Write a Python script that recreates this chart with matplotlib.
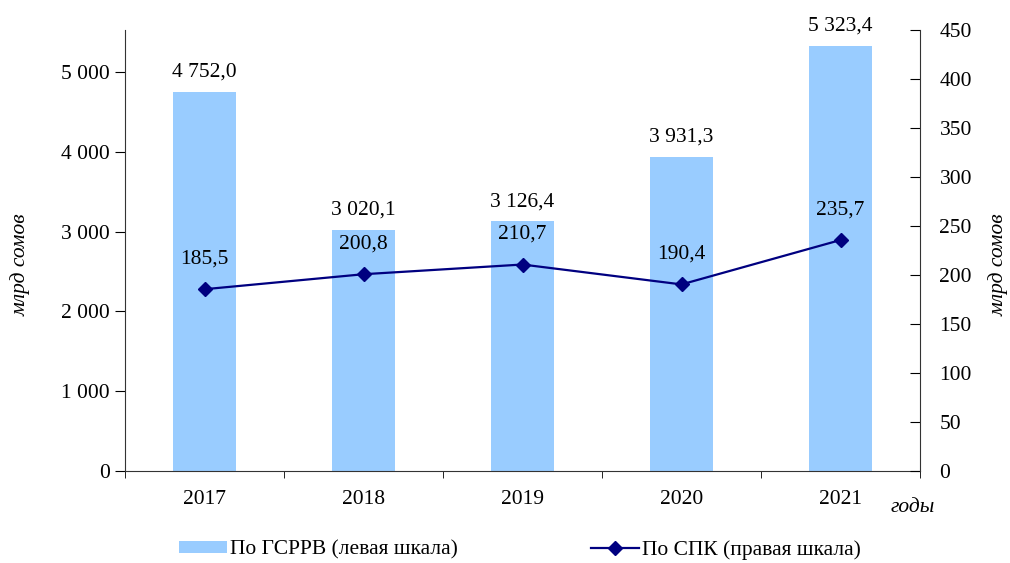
import numpy as np
import matplotlib.pyplot as plt
from matplotlib.ticker import FuncFormatter, FixedLocator

plt.rcParams['font.family'] = ['Liberation Serif', 'DejaVu Serif']

years = ['2017', '2018', '2019', '2020', '2021']
gsrrv = [4752.0, 3020.1, 3126.4, 3931.3, 5323.4]
spk = [185.5, 200.8, 210.7, 190.4, 235.7]

bar_color = '#99CCFF'
line_color = '#000080'
fs = 15.5


def ru(v, dec=0):
    s = f'{v:,.{dec}f}'
    return s.replace(',', ' ').replace('.', ',')


fig = plt.figure(figsize=(10.1, 5.63), dpi=100)
ax = fig.add_axes([0.1238, 0.1634, 0.9109 - 0.1238, 0.9467 - 0.1634])
ax2 = ax.twinx()

x = np.arange(len(years))
bars = ax.bar(x, gsrrv, width=0.4, color=bar_color, label='По ГСРРВ (левая шкала)', zorder=2)
ax.set_xlim(-0.5, len(years) - 0.5)
ax.set_ylim(0, 5525)
ax.set_yticks(np.arange(0, 5001, 1000))
ax.yaxis.set_major_formatter(FuncFormatter(lambda v, p: ru(v)))
ax.set_xticks(x)
ax.set_xticklabels(years)
ax.xaxis.set_minor_locator(FixedLocator(np.arange(-0.5, len(years), 1.0)))
ax.tick_params(axis='x', which='major', length=0, pad=14, labelsize=fs)
ax.tick_params(axis='x', which='minor', length=5, direction='out')
ax.tick_params(axis='y', length=7, direction='out', labelsize=fs, pad=4)
for s in ['top', 'right']:
    ax.spines[s].set_visible(False)
ax.spines['left'].set_color('#333333')
ax.spines['bottom'].set_color('#333333')

for xi, v in zip(x, gsrrv):
    ax.text(xi, v + 130, ru(v, 1), ha='center', va='bottom', fontsize=fs)

line, = ax2.plot(x, spk, color=line_color, marker='D', markersize=7, linewidth=1.6,
                 label='По СПК (правая шкала)', zorder=3)
ax2.set_ylim(0, 450)
ax2.set_yticks(np.arange(0, 451, 50))
ax2.tick_params(axis='y', length=7, direction='in', labelsize=fs, pad=14)
for s in ['top', 'left', 'bottom']:
    ax2.spines[s].set_visible(False)
ax2.spines['right'].set_color('#333333')

for xi, v in zip(x, spk):
    ax2.text(xi, v + 21, ru(v, 1), ha='center', va='bottom', fontsize=fs)

fig.text(0.02, 0.53, 'млрд сомов', rotation=90, ha='center', va='center',
         fontsize=fs, style='italic')
fig.text(0.989, 0.53, 'млрд сомов', rotation=90, ha='center', va='center',
         fontsize=fs, style='italic')
fig.text(0.904, 0.098, 'годы', ha='center', va='center', fontsize=fs, style='italic')

fig.legend([bars, line], ['По ГСРРВ (левая шкала)', 'По СПК (правая шкала)'],
           loc='center', bbox_to_anchor=(0.515, 0.023), ncol=2, frameon=False,
           fontsize=15.5, handlelength=2.2, handleheight=0.5, handletextpad=0.15,
           columnspacing=6.2)

fig.savefig('out.png', dpi=100)
